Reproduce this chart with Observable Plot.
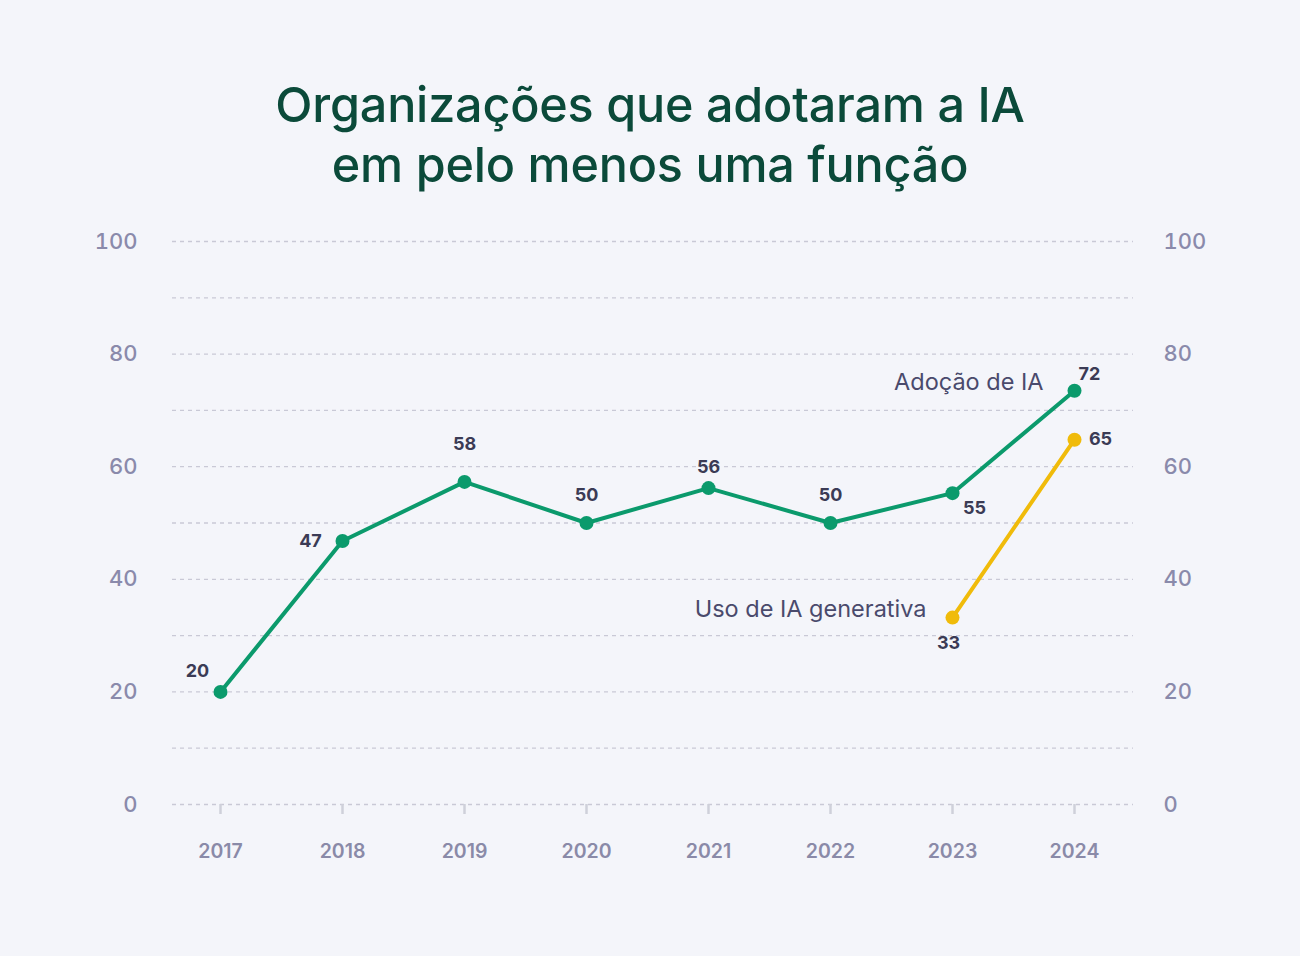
<!DOCTYPE html>
<html>
<head>
<meta charset="utf-8">
<script src="https://cdn.jsdelivr.net/npm/d3@7"></script>
<script src="https://cdn.jsdelivr.net/npm/@observablehq/plot@0.6"></script>
<style>
  html, body { margin: 0; padding: 0; background: #f4f5fa; }
  #wrap { width: 1300px; height: 956px; position: relative; }
  #title { box-sizing: border-box; padding-top: 75px; height: 195px; text-align: center;
    font-family: Inter, "Noto Sans", sans-serif; font-weight: 500; font-size: 48.5px; line-height: 60px;
    color: #0b4a3a; letter-spacing: -0.2px; }
  svg { display: block; }
</style>
</head>
<body>
<div id="wrap">
  <div id="title">Organizações que adotaram a IA<br>em pelo menos uma função</div>
  <div id="chart"></div>
</div>
<script>
const years = ["2017","2018","2019","2020","2021","2022","2023","2024"];
const adocaoValues = [20, 46.8, 57.3, 50, 56.2, 50, 55.3, 73.5];
const adocaoLabels = ["20","47","58","50","56","50","55","72"];
const genYears = ["2023","2024"];
const genValues = [33.2, 64.8];
const genLabels = ["33","65"];
const yTicks = [0, 20, 40, 60, 80, 100];
const gridValues = [0,10,20,30,40,50,60,70,80,90,100];
const seriesNames = ["Adoção de IA", "Uso de IA generativa"];

// label offsets (layout)
const adocaoOffsets = [[-23,-21],[-32,0],[0,-38],[0,-28],[0,-21],[0,-28],[22,15],[15,-16]];
const genOffsets = [[-4,26],[26,0]];

const adocao = years.map((y,i) => ({year: y, value: adocaoValues[i], label: adocaoLabels[i], dx: adocaoOffsets[i][0], dy: adocaoOffsets[i][1]}));
const gen = genYears.map((y,i) => ({year: y, value: genValues[i], label: genLabels[i], dx: genOffsets[i][0], dy: genOffsets[i][1]}));

const GREEN = "#0b9a6c";
const YELLOW = "#f0bb0a";
const LABEL = "#3b3b55";

const labelMarks = (data, extra={}) => data.map(d => Plot.text([d], {
  x: "year", y: "value", text: "label", dx: d.dx, dy: d.dy,
  fill: LABEL, fontSize: 18, fontWeight: 700, fontFamily: "Inter, sans-serif", ...extra
}));

const plot = Plot.plot({
  width: 1300,
  height: 679,
  marginTop: 46,
  marginBottom: 70,
  marginLeft: 172,
  marginRight: 167,
  style: { background: "transparent", fontFamily: "Inter, sans-serif" },
  x: { type: "point", domain: years, range: [219, 1074], padding: 0, label: null },
  y: { domain: [0, 100], label: null },
  marks: [
    Plot.ruleY(gridValues, { stroke: "#c9c9d6", strokeWidth: 1.3, strokeDasharray: "4,4" }),
    Plot.axisX({ tickSize: 10, tickPadding: 30, stroke: "#cfd0da", strokeWidth: 2.5, fontSize: 19.5, fontWeight: 600, fill: "#8a8aa8", label: null }),
    Plot.axisY({ ticks: yTicks, anchor: "left", tickSize: 0, tickPadding: 35, fontSize: 22, fontWeight: 500, fill: "#8a8aab", label: null }),
    Plot.axisY({ ticks: yTicks, anchor: "right", tickSize: 0, tickPadding: 30, fontSize: 22, fontWeight: 500, fill: "#8a8aab", label: null }),
    Plot.line(adocao, { x: "year", y: "value", stroke: GREEN, strokeWidth: 4 }),
    Plot.line(gen, { x: "year", y: "value", stroke: YELLOW, strokeWidth: 4 }),
    Plot.dot(adocao, { x: "year", y: "value", r: 7, fill: GREEN }),
    Plot.dot(gen, { x: "year", y: "value", r: 7, fill: YELLOW }),
    ...labelMarks(adocao),
    ...labelMarks(gen),
    Plot.text([adocao[adocao.length-1]], { x: "year", y: "value", text: () => seriesNames[0], textAnchor: "end", dx: -31, dy: -8, fill: "#4a4a6c", fontSize: 23.5, fontFamily: "Inter, sans-serif" }),
    Plot.text([gen[0]], { x: "year", y: "value", text: () => seriesNames[1], textAnchor: "end", dx: -26, dy: -8, fill: "#4a4a6c", fontSize: 23.5, fontFamily: "Inter, sans-serif" })
  ]
});
document.getElementById("chart").appendChild(plot);
</script>
</body>
</html>
